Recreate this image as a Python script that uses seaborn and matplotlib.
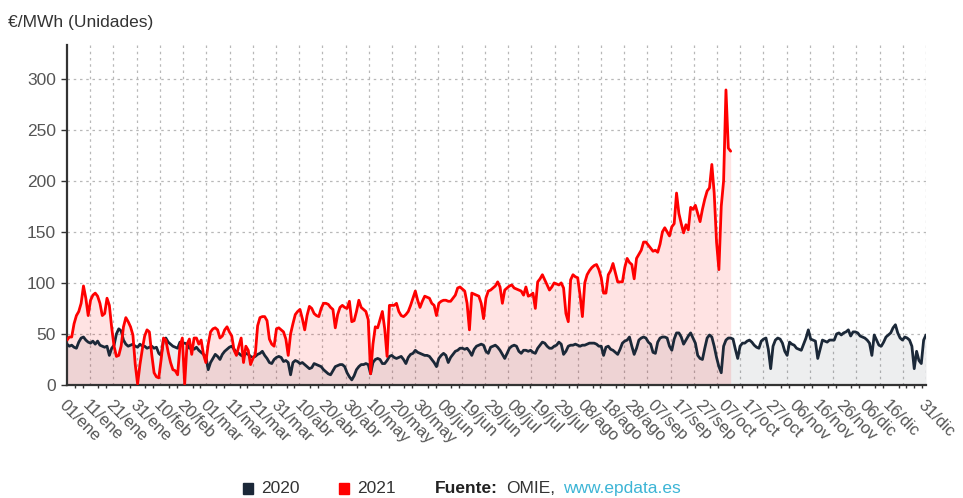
import numpy as np
import pandas as pd
import matplotlib
matplotlib.use("Agg")
import matplotlib.pyplot as plt
from matplotlib.patches import Rectangle
import seaborn as sns

# Daily pool price, €/MWh
prices_2020 = [
    40, 38, 39, 37, 36, 42, 46, 47, 44, 42,
    41, 43, 40, 43, 39, 38, 37, 38, 29, 36,
    39, 50, 55, 53, 44, 40, 38, 39, 40, 38,
    37, 40, 38, 38, 36, 37, 38, 36, 37, 31,
    29, 44, 46, 42, 40, 38, 37, 36, 42, 41,
    41, 40, 36, 38, 35, 37, 34, 32, 30, 28,
    15, 22, 26, 30, 28, 25, 30, 33, 35, 37,
    38, 35, 32, 31, 29, 28, 31, 30, 28, 27,
    28, 30, 31, 33, 29, 26, 22, 21, 25, 27,
    28, 27, 23, 24, 22, 10, 22, 24, 23, 21,
    22, 20, 18, 16, 17, 21, 20, 19, 18, 15,
    13, 11, 10, 14, 18, 19, 20, 20, 18, 12,
    8, 5, 9, 15, 18, 20, 20, 21, 20, 11,
    22, 25, 26, 25, 21, 21, 24, 28, 29, 27,
    26, 27, 28, 25, 21, 27, 30, 31, 34, 32,
    31, 30, 29, 29, 28, 25, 22, 18, 26, 29,
    31, 29, 22, 27, 30, 33, 34, 36, 36, 35,
    36, 33, 29, 35, 38, 39, 40, 39, 33, 31,
    37, 38, 39, 37, 34, 30, 26, 31, 36, 38,
    39, 38, 33, 31, 34, 34, 33, 34, 32, 31,
    36, 39, 42, 41, 38, 36, 36, 38, 39, 42,
    40, 30, 33, 38, 39, 39, 40, 39, 38, 39,
    39, 40, 41, 41, 41, 40, 38, 38, 29, 37,
    38, 35, 34, 32, 30, 35, 41, 43, 44, 47,
    38, 30, 36, 44, 46, 47, 46, 42, 40, 32,
    31, 42, 46, 47, 47, 46, 38, 34, 45, 51,
    51, 47, 40, 44, 48, 51, 46, 41, 29, 26,
    25, 36, 46, 49, 47, 38, 27, 18, 12, 38,
    44, 46, 46, 45, 35, 26, 38, 41, 41, 43,
    44, 42, 39, 37, 36, 43, 45, 46, 35, 16,
    38, 44, 46, 45, 41, 33, 29, 42, 40, 39,
    36, 35, 34, 40, 46, 54, 45, 44, 43, 26,
    35, 44, 43, 42, 44, 44, 44, 50, 51, 49,
    51, 52, 54, 48, 52, 52, 51, 48, 47, 46,
    44, 41, 29, 49, 44, 39, 38, 42, 47, 49,
    51, 56, 59, 51, 46, 44, 47, 46, 44, 38,
    16, 33, 24, 21, 44, 49,
]

prices_2021 = [
    44, 47, 47, 60, 68, 72, 80, 97, 85, 68,
    83, 88, 90, 87, 80, 68, 70, 85, 78, 56,
    38, 28, 29, 38, 57, 66, 62, 57, 49, 20,
    1, 20, 35, 48, 54, 52, 30, 12, 8, 7,
    25, 46, 44, 32, 22, 15, 14, 10, 38, 46,
    1, 40, 45, 30, 46, 46, 40, 44, 30, 22,
    40, 52, 55, 56, 54, 46, 48, 54, 57, 52,
    48, 34, 29, 38, 46, 22, 38, 34, 20, 26,
    30, 58, 66, 67, 67, 63, 45, 40, 38, 55,
    56, 54, 52, 45, 29, 50, 60, 69, 72, 74,
    65, 54, 68, 77, 75, 70, 68, 67, 75, 80,
    80, 79, 76, 74, 56, 69, 76, 78, 76, 75,
    82, 62, 63, 72, 83, 76, 74, 72, 64, 11,
    40, 57, 56, 64, 72, 55, 28, 78, 78, 78,
    80, 72, 68, 67, 69, 72, 78, 85, 92, 83,
    76, 82, 87, 86, 85, 80, 78, 68, 80, 82,
    83, 83, 82, 82, 85, 88, 95, 96, 94, 92,
    80, 54, 90, 89, 88, 87, 80, 65, 85, 92,
    93, 95, 97, 101, 96, 80, 93, 95, 97, 98,
    95, 94, 93, 92, 88, 96, 87, 88, 90, 75,
    101, 104, 108, 103, 98, 93, 96, 100, 99, 98,
    100, 95, 70, 62, 103, 108, 106, 105, 88, 67,
    100, 108, 112, 115, 117, 118, 113, 105, 90, 90,
    108, 112, 119, 110, 101, 101, 101, 115, 124, 120,
    118, 104, 124, 128, 132, 140, 140, 137, 134, 131,
    132, 130, 138, 150, 154, 150, 146, 155, 158, 188,
    168, 158, 149, 157, 152, 174, 172, 176, 168, 160,
    172, 182, 190, 193, 216, 188, 140, 113, 175, 200,
    289, 232, 229,
]

tick_days = [0, 10, 20, 30, 40, 50, 60, 70, 80, 90, 100, 110, 120, 130, 140,
             150, 160, 170, 180, 190, 200, 210, 220, 230, 240, 250, 260, 270,
             280, 290, 300, 310, 320, 330, 340, 350, 365]
tick_labels = ["01/ene", "11/ene", "21/ene", "31/ene", "10/feb", "20/feb",
               "01/mar", "11/mar", "21/mar", "31/mar", "10/abr", "20/abr",
               "30/abr", "10/may", "20/may", "30/may", "09/jun", "19/jun",
               "29/jun", "09/jul", "19/jul", "29/jul", "08/ago", "18/ago",
               "28/ago", "07/sep", "17/sep", "27/sep", "07/oct", "17/oct",
               "27/oct", "06/nov", "16/nov", "26/nov", "06/dic", "16/dic",
               "31/dic"]
y_ticks = [0, 50, 100, 150, 200, 250, 300]

C2020 = "#1b2838"
C2021 = "#ff0000"

sns.set_theme(style="white")
plt.rcParams['font.family'] = ['Liberation Sans', 'DejaVu Sans']

d20 = np.arange(len(prices_2020))
d21 = np.arange(len(prices_2021))
df = pd.concat([
    pd.DataFrame({"day": d20, "price": prices_2020, "year": "2020"}),
    pd.DataFrame({"day": d21, "price": prices_2021, "year": "2021"}),
], ignore_index=True)

fig = plt.figure(figsize=(9.63, 4.98), dpi=100)
ax = fig.add_axes([67 / 963, 113 / 498, 859 / 963, 340 / 498])

ax.set_xlim(0, 365)
ax.set_ylim(0, 333)

# grid
grid_kw = dict(color="#b8b8b8", lw=0.9, ls=(0, (2, 3)), zorder=0)
for x in np.linspace(0, 365, 38)[1:]:
    ax.axvline(x, **grid_kw)
for y in y_ticks[1:]:
    ax.axhline(y, **grid_kw)

ax.fill_between(d20, prices_2020, 0, color=C2020, alpha=0.08, lw=0, zorder=1)
ax.fill_between(d21, prices_2021, 0, color=C2021, alpha=0.11, lw=0, zorder=1)

sns.lineplot(data=df, x="day", y="price", hue="year",
             palette={"2020": C2020, "2021": C2021},
             linewidth=2.0, ax=ax, legend=False, zorder=3)

ax.set_xlabel("")
ax.set_ylabel("")

ax.set_xticks(tick_days)
ax.set_xticklabels(tick_labels, rotation=-45, ha="left", va="top",
                   rotation_mode="anchor", fontsize=12, color="#555555")
ax.set_xticks(np.arange(0, 366, 10 / 3), minor=True)
ax.set_yticks(y_ticks)
ax.set_yticklabels([str(v) for v in y_ticks], fontsize=12.5, color="#555555")

ax.tick_params(axis="x", which="major", direction="out", length=4, width=1,
               color="#333333", pad=5)
ax.tick_params(axis="x", which="minor", direction="out", length=2, width=1,
               color="#333333", bottom=True)
ax.tick_params(axis="y", which="major", direction="out", length=4, width=1,
               color="#333333", pad=4, left=True)

for s in ["top", "right"]:
    ax.spines[s].set_visible(False)
for s in ["left", "bottom"]:
    ax.spines[s].set_color("#333333")
    ax.spines[s].set_linewidth(1.6)

fig.text(8 / 963, 1 - 22 / 498, "€/MWh (Unidades)", fontsize=12.5,
         color="#333333", ha="left", va="center")

# legend + source
ly = 1 - 488 / 498
fig.patches.append(Rectangle((243 / 963, 1 - 494 / 498), 10 / 963, 11 / 498,
                             transform=fig.transFigure, color=C2020))
fig.text(261 / 963, ly, "2020", fontsize=12.5, color="#333333", va="center")
fig.patches.append(Rectangle((339 / 963, 1 - 494 / 498), 10 / 963, 11 / 498,
                             transform=fig.transFigure, color=C2021))
fig.text(357 / 963, ly, "2021", fontsize=12.5, color="#333333", va="center")
fig.text(435 / 963, ly, "Fuente:", fontsize=12.5, color="#222222",
         weight="bold", va="center")
fig.text(506 / 963, ly, "OMIE,", fontsize=12.5, color="#333333", va="center")
fig.text(563 / 963, ly, "www.epdata.es", fontsize=12.5, color="#3db5d6",
         va="center")

fig.savefig("out.png", dpi=100, facecolor="white")
